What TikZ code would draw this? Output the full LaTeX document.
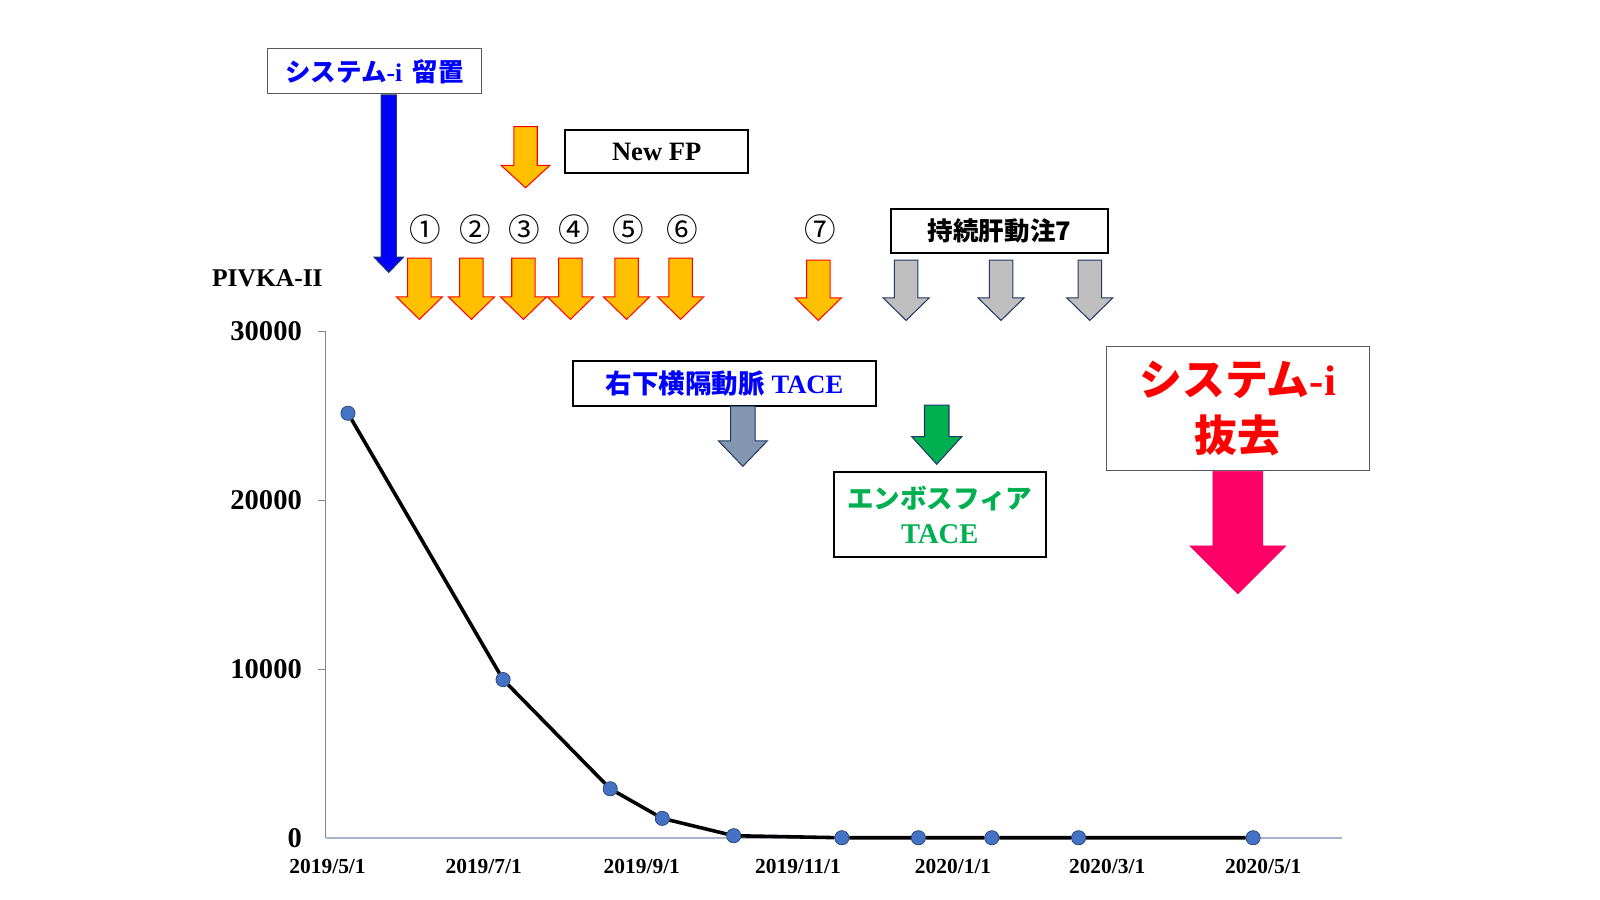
\documentclass[tikz,border=0pt]{standalone}
\usepackage{fontspec}
\setmainfont{Liberation Serif}
\newfontfamily\cjk{Noto Sans CJK JP}
\definecolor{arrorange}{RGB}{255,192,0}
\definecolor{arrgrey}{RGB}{191,191,191}
\definecolor{arrslate}{RGB}{132,151,176}
\definecolor{arrgreen}{RGB}{0,176,80}
\definecolor{arrpink}{RGB}{255,0,102}
\definecolor{navyedge}{RGB}{31,56,100}
\definecolor{txtblue}{RGB}{0,0,255}
\definecolor{txtgreen}{RGB}{0,176,80}
\definecolor{axisgrey}{RGB}{134,134,134}
\definecolor{axisblue}{RGB}{166,182,204}
\definecolor{dotblue}{RGB}{68,114,196}
\newcommand{\fsz}[1]{\fontsize{#1}{#1}\selectfont}
\newcommand{\blockarrow}[7]{%
  \draw[#1] (#2-#4,#3) -- (#2+#4,#3) -- (#2+#4,#5) -- (#2+#6,#5) -- (#2,#7) -- (#2-#6,#5) -- (#2-#4,#5) -- cycle;}
\begin{document}
\begin{tikzpicture}[x=1pt,y=-1pt,
  blackbox/.style={draw=black, line width=2pt, fill=white, inner sep=0pt, align=center},
  greybox/.style={draw=black!65, line width=1pt, fill=white, inner sep=0pt, align=center},
  orangearr/.style={fill=arrorange, draw=red, line width=1pt, line join=miter},
  greyarr/.style={fill=arrgrey, draw=navyedge, line width=1pt},
  slatearr/.style={fill=arrslate, draw=navyedge, line width=1pt},
  greenarr/.style={fill=arrgreen, draw=navyedge, line width=1pt},
  bluearr/.style={fill=txtblue, draw=navyedge, line width=1pt},
  pinkarr/.style={fill=arrpink, draw=arrpink, line width=0.5pt},
  ylab/.style={anchor=east, font=\fsz{28}\bfseries, inner sep=0pt},
  xlab/.style={font=\fsz{21}\bfseries, inner sep=0pt},
  circnum/.style={font=\cjk\fsz{31}, inner sep=0pt},
  dot/.style={circle, fill=dotblue, draw=navyedge, line width=0.6pt, minimum size=14pt, inner sep=0pt},
  dataline/.style={draw=black, line width=3.5pt, line join=round}
]
\useasboundingbox (0,0) rectangle (1568,882);
\fill[white] (0,0) rectangle (1568,882);

% axes
\coordinate (ytop) at (319,325);
\coordinate (origin) at (319,821);
\coordinate (xend) at (1315,821);
\draw[axisgrey, line width=1pt] (ytop) -- (origin);
\foreach \yy in {325,490.5,656} \draw[axisgrey, line width=1pt] (312,\yy) -- (319,\yy);
\draw[axisblue, line width=2pt] (origin) -- (xend);

\node[font=\fsz{25}\bfseries, inner sep=0pt] (pivka) at (262,273) {PIVKA-II};
\node[ylab] (y30) at (296,325) {30000};
\node[ylab] (y20) at (296,490.5) {20000};
\node[ylab] (y10) at (296,656) {10000};
\node[ylab] (y0) at (296,821) {0};

\node[xlab] (d1) at (321,849) {2019/5/1};
\node[xlab] (d2) at (474,849) {2019/7/1};
\node[xlab] (d3) at (629,849) {2019/9/1};
\node[xlab] (d4) at (782,849) {2019/11/1};
\node[xlab] (d5) at (934,849) {2020/1/1};
\node[xlab] (d6) at (1085,849) {2020/3/1};
\node[xlab] (d7) at (1238,849) {2020/5/1};

% data
\node[dot] (p1) at (341,405) {};
\node[dot] (p2) at (493,666) {};
\node[dot] (p3) at (598,773) {};
\node[dot] (p4) at (649,802) {};
\node[dot] (p5) at (719,819) {};
\node[dot] (p6) at (825,821) {};
\node[dot] (p7) at (900,821) {};
\node[dot] (p8) at (972,821) {};
\node[dot] (p9) at (1057,821) {};
\node[dot] (p10) at (1228,821) {};
\draw[dataline] (p1) -- (p2) -- (p3) -- (p4) -- (p5) -- (p6) -- (p7) -- (p8) -- (p9) -- (p10);

% system-i placement
\node[greybox, minimum width=210pt, minimum height=44pt, text=txtblue, font=\fsz{25}\bfseries] (place) at (367,70) {{\cjk システム}-i\hspace{4pt} {\cjk 留置}};
\blockarrow{bluearr}{381}{93}{7.5}{252}{14.5}{267}

% New FP
\blockarrow{orangearr}{515}{124}{11.5}{162}{24}{184}
\node[blackbox, minimum width=179pt, minimum height=43pt, font=\fsz{26}\bfseries] (newfp) at (643.5,148.5) {New FP};

% circled numbers
\node[circnum] (c1) at (417,225) {①};
\node[circnum] (c2) at (466,225) {②};
\node[circnum] (c3) at (514,225) {③};
\node[circnum] (c4) at (563,225) {④};
\node[circnum] (c5) at (616,225) {⑤};
\node[circnum] (c6) at (669,225) {⑥};
\node[circnum] (c7) at (804,225) {⑦};

% orange arrows
\foreach \cx in {411,462,513,559,614,667} {\blockarrow{orangearr}{\cx}{253}{11.5}{291}{22.5}{313}}
\blockarrow{orangearr}{802}{255}{11.5}{292}{22.5}{314}

% continuous hepatic arterial infusion
\node[blackbox, minimum width=213pt, minimum height=43pt, font=\cjk\fsz{25}\bfseries] (hai) at (979.5,226.5) {持続肝動注7};
\foreach \cx in {888,981,1068} {\blockarrow{greyarr}{\cx}{255}{11.5}{292}{22.5}{314}}

% right inferior phrenic artery TACE
\node[blackbox, minimum width=296pt, minimum height=44pt, text=txtblue, font=\fsz{26}\bfseries] (ripa) at (710,375.5) {{\cjk 右下横隔動脈} TACE};
\blockarrow{slatearr}{728}{398}{12}{432}{24}{457}

% embosphere TACE
\blockarrow{greenarr}{918}{397}{12}{428}{24.5}{455}
\node[blackbox, minimum width=208pt, minimum height=83pt, text=txtgreen, font=\fsz{26}\bfseries] (embo) at (921,504.5) {{\cjk エンボスフィア}\\[8pt]{\fsz{28}TACE}};

% system-i removal
\node[greybox, minimum width=258pt, minimum height=121pt, text=red, font=\fsz{42}\bfseries] (removal) at (1213,400.5) {{\cjk システム}-i\\[13pt]{\cjk 抜去}};
\blockarrow{pinkarr}{1213}{462}{24.5}{535}{47}{582}
\end{tikzpicture}
\end{document}
